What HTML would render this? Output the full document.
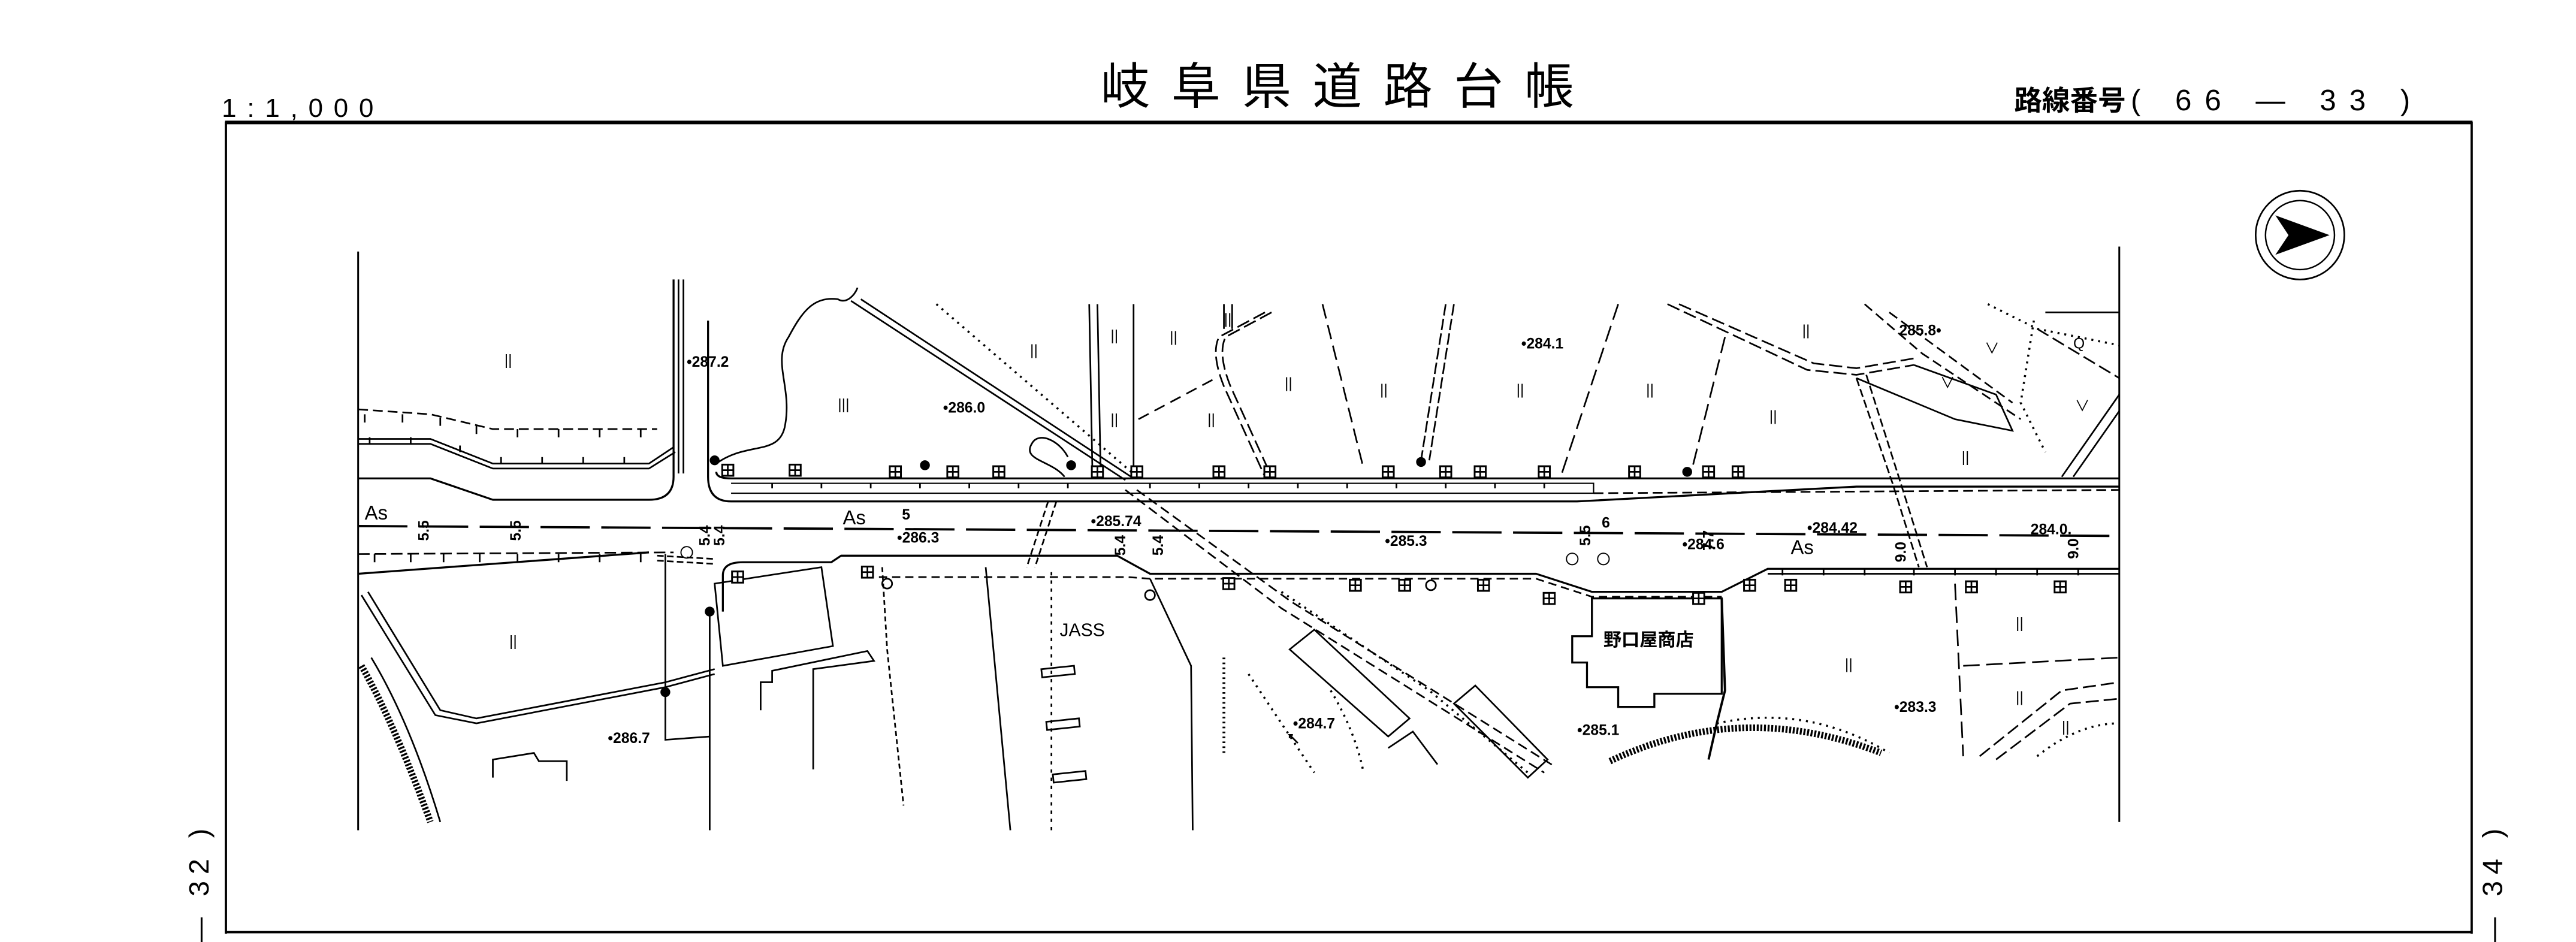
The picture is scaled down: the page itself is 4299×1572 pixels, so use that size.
<!DOCTYPE html>
<html><head><meta charset="utf-8"><style>
html,body{margin:0;padding:0;background:#fff;}
svg{display:block;}
text{font-family:"Liberation Sans","Noto Sans CJK JP",sans-serif;fill:#000;}
</style></head><body>
<svg width="4299" height="1572" viewBox="0 0 4299 1572" xmlns="http://www.w3.org/2000/svg">
<defs>
<symbol id="bx" viewBox="0 0 8 8"><rect x="0.6" y="0.6" width="6.8" height="6.8" fill="#fff" stroke="#000" stroke-width="1.1"/><line x1="4" y1="0.6" x2="4" y2="7.4" stroke="#000" stroke-width="1"/><line x1="0.6" y1="4" x2="7.4" y2="4" stroke="#000" stroke-width="1"/></symbol>
</defs>
<g transform="scale(2.7417,2.7435)" fill="none" stroke="#000" stroke-width="1">
<!-- header -->
<text x="135" y="71" font-size="16" letter-spacing="6.5" stroke="none">1:1,000</text>
<text x="670" y="63" font-size="30" letter-spacing="13" stroke="none">岐阜県道路台帳</text>
<text x="1226" y="67" font-size="17" font-weight="bold" stroke="none">路線番号</text>
<text x="1297" y="67" font-size="18" letter-spacing="8" stroke="none">( 66 — 33 )</text>
<!-- frame -->
<line x1="137" y1="74.5" x2="1505" y2="74.5" stroke-width="2.2"/>
<line x1="137.5" y1="74" x2="137.5" y2="568" stroke-width="1.4"/>
<line x1="1504.5" y1="74" x2="1504.5" y2="568" stroke-width="1.4"/>
<line x1="137" y1="567" x2="1505" y2="567" stroke-width="1.4"/>
<text transform="translate(127,575) rotate(-90)" font-size="17" letter-spacing="4" stroke="none">— 32 )</text>
<text transform="translate(1523,575) rotate(-90)" font-size="17" letter-spacing="4" stroke="none">— 34 )</text>
<!-- compass -->
<circle cx="1400" cy="143" r="27" stroke-width="1"/>
<circle cx="1400" cy="143" r="21" stroke-width="0.9"/>
<path d="M1385 131 L1418 143 L1385 155 L1393 143 Z" fill="#000" stroke="none"/>
<!-- map borders -->
<line x1="218" y1="153" x2="218" y2="505" stroke-width="1.1"/>
<line x1="1290" y1="150" x2="1290" y2="500" stroke-width="1.1"/>
<!-- left-top block -->
<path d="M218 249 L262 252 L300 261 L400 261" stroke-dasharray="6 3"/>
<path d="M222 252v5 M245 252v5 M268 254v5 M290 259v5 M315 261v5 M340 261v5 M365 261v5 M390 261v5"/>
<path d="M218 267 L262 267 L300 282 L395 282 L410 272"/>
<path d="M218 270 L262 270 L300 285 L395 285 L411 275"/>
<path d="M225 270v-4 M250 270v-4 M280 275v-4 M305 282v-4 M330 282v-4 M355 282v-4 M380 282v-4"/>
<path d="M218 291 L262 291 L300 304 L395 304 Q410 304 410 290 L410 170" stroke-width="1.2"/>
<path d="M413 170 L413 288 M416 170 L416 288"/>
<!-- north road edges -->
<path d="M431 195 L431 290 Q431 305 445 305 L960 305 L1130 296 L1290 296" stroke-width="1.2"/>
<path d="M436 287 Q436 291 445 291 L1290 291" stroke-width="1.2"/>
<path d="M445 294 L970 294 L970 300 L445 300" stroke-width="0.8"/>
<path d="M470 294v3 M500 294v3 M530 294v3 M560 294v3 M590 294v3 M620 294v3 M650 294v3 M700 294v3 M730 294v3 M760 294v3 M790 294v3 M820 294v3 M850 294v3 M880 294v3 M910 294v3 M940 294v3"/>
<path d="M970 300 L1290 298" stroke-dasharray="6 3"/>
<!-- centerline -->
<path d="M218 320 L1290 326" stroke-width="1.4" stroke-dasharray="30 7"/>
<!-- south road -->
<path d="M218 337 L410 336" stroke-dasharray="7 3"/>
<path d="M228 337v5 M250 337v5 M270 337v5 M292 337v5 M315 337v5 M340 337v5 M365 337v5 M390 337v5"/>
<path d="M218 349 L395 336" stroke-width="1.2"/>
<path d="M400 338 L435 340 M400 341 L435 343" stroke-dasharray="4 2"/>
<path d="M440 372 L440 350 Q440 342 452 342 L506 342 L512 338 L680 338 L700 349 L935 349 L969 360 L1048 360 L1076 346 L1290 346" stroke-width="1.2"/>
<path d="M535 351 L686 351 L700 352 L935 352 L969 363 L1048 363" stroke-dasharray="5 3"/>
<path d="M1076 349 L1290 349 M1085 346v4 M1110 346v4 M1135 346v4 M1165 346v4 M1190 346v4 M1215 346v4 M1240 346v4 M1265 346v4"/>
<!-- diagonal crossings -->
<path d="M518 183 L685 292 M524 182 L690 291"/>
<path d="M570 185 L692 290" stroke-dasharray="1.2 3" stroke-width="1.3"/>
<path d="M685 298 L780 370 L860 420 L940 470 M692 298 L786 366 L866 416 L946 466" stroke-dasharray="6 3"/>
<path d="M780 360 L870 420 L930 470" stroke-dasharray="1.2 3" stroke-width="1.3"/>
<path d="M638 305 L625 345 M643 305 L630 345" stroke-dasharray="4 2"/>
<path d="M1130 230 L1152 294 L1168 345 M1136 228 L1157 294 L1173 345" stroke-dasharray="5 2"/>
<path d="M1290 240 L1255 290 M1290 250 L1262 290"/>
<!-- north parcels -->
<path d="M663 185 L665 290 M668 185 L670 290"/>
<path d="M690 185 L690 290"/>
<path d="M693 255 L740 230" stroke-dasharray="7 4"/>
<path d="M770 190 L742 205 Q737 215 745 235 L770 290 M774 190 L746 205 Q741 215 749 235 L774 290" stroke-dasharray="8 3"/>
<path d="M745 185 L745 200 M750 185 L750 200"/>
<path d="M805 185 L830 285" stroke-dasharray="9 4"/>
<path d="M880 185 L865 280 M885 185 L870 280" stroke-dasharray="7 2"/>
<path d="M985 185 L950 290" stroke-dasharray="10 4"/>
<path d="M1050 205 L1030 285" stroke-dasharray="10 4"/>
<path d="M1015 185 L1100 225 L1130 228 L1165 222 M1022 185 L1104 221 L1130 224 L1165 218" stroke-dasharray="8 3"/>
<path d="M1135 185 L1170 215 L1230 255 M1150 190 L1225 245" stroke-dasharray="6 3"/>
<path d="M1165 222 L1215 240 L1225 262 L1190 255 L1130 230"/>
<path d="M1210 185 L1240 200 L1290 210 M1238 195 L1230 245 L1245 275" stroke-dasharray="1.2 3" stroke-width="1.3"/>
<path d="M1240 200 L1290 230" stroke-dasharray="8 3"/>
<path d="M1245 190 L1290 190"/>
<!-- wavy -->
<path d="M436 282 C455 268 475 278 478 258 C482 235 470 220 480 205 C488 190 495 180 510 182 C515 185 520 180 522 175"/>
<path d="M648 290 C640 280 622 280 628 270 C632 262 645 268 650 278"/>
<!-- south features -->
<path d="M220 362 L265 435 L290 440 L405 418 L435 410 M224 360 L268 432 L290 437 L405 415 L435 407"/>
<path d="M220 405 Q240 440 262 500" stroke-width="4" stroke-dasharray="1.2 1"/>
<path d="M226 400 Q250 440 268 500"/>
<path d="M405 337 L405 450 L432 448"/>
<path d="M432 372 L432 505"/>
<polygon points="435,355 500,345 507,393 440,405"/>
<path d="M463 432 L463 415 L470 415 L470 408 L528 396 L532 402 L495 407 L495 468"/>
<path d="M300 473 L300 462 L325 458 L328 463 L345 463 L345 475"/>
<path d="M537 345 L540 395 L550 490" stroke-dasharray="3 2"/>
<path d="M600 345 L615 505"/>
<path d="M700 352 L725 405 L726 505"/>
<path d="M640 348 L640 505" stroke-dasharray="2 3"/>
<text x="645" y="387" font-size="11" stroke="none">JASS</text>
<rect x="634" y="406" width="20" height="5" transform="rotate(-6 644 408)"/>
<rect x="637" y="438" width="20" height="5" transform="rotate(-6 647 440)"/>
<rect x="641" y="470" width="20" height="5" transform="rotate(-6 651 472)"/>
<polygon points="785,395 800,383 858,437 845,448"/>
<polygon points="885,428 898,417 942,462 930,473"/>
<path d="M845 455 L860 445 L875 465"/>
<path d="M745 400 L745 460" stroke-dasharray="1 2" stroke-width="1.7"/>
<path d="M760 410 Q780 440 800 470 M810 420 Q825 445 830 470" stroke-dasharray="1.2 3" stroke-width="1.3"/>
<path d="M790 452 l-5 -5 l2 0 m-2 0 l0 2"/>
<polygon points="969,364 1048,364 1048,422 1007,422 1007,430 985,430 985,418 966,418 966,403 957,403 957,387 969,387" stroke-width="1.2"/>
<text x="976" y="393" font-size="11" font-weight="bold" stroke="none">野口屋商店</text>
<path d="M1048 364 L1050 420 L1045 440 L1040 462" stroke-width="1.4"/>
<path d="M980 463 Q1060 425 1145 458" stroke-width="4" stroke-dasharray="1.2 1"/>
<path d="M1045 440 Q1100 428 1150 458" stroke-dasharray="1.2 3" stroke-width="1.3"/>
<path d="M1190 355 L1195 460" stroke-dasharray="10 4"/>
<path d="M1195 405 L1290 400" stroke-dasharray="10 4"/>
<path d="M1205 460 L1255 420 L1290 415 M1215 462 L1260 428 L1290 425" stroke-dasharray="8 3"/>
<path d="M1240 460 Q1265 440 1290 440" stroke-dasharray="1.2 3" stroke-width="1.3"/>
<!-- symbols -->
<g stroke="none" fill="#000">
<circle cx="435" cy="280" r="3"/><circle cx="563" cy="283" r="3"/><circle cx="652" cy="283" r="3"/>
<circle cx="865" cy="281" r="3"/><circle cx="1027" cy="287" r="3"/><circle cx="432" cy="372" r="3"/>
<circle cx="405" cy="421" r="3"/>
</g>
<g>
<use href="#bx" x="439" y="282" width="8" height="8"/><use href="#bx" x="480" y="282" width="8" height="8"/>
<use href="#bx" x="541" y="283" width="8" height="8"/><use href="#bx" x="576" y="283" width="8" height="8"/>
<use href="#bx" x="604" y="283" width="8" height="8"/><use href="#bx" x="664" y="283" width="8" height="8"/>
<use href="#bx" x="688" y="283" width="8" height="8"/><use href="#bx" x="738" y="283" width="8" height="8"/>
<use href="#bx" x="769" y="283" width="8" height="8"/><use href="#bx" x="841" y="283" width="8" height="8"/>
<use href="#bx" x="876" y="283" width="8" height="8"/><use href="#bx" x="897" y="283" width="8" height="8"/>
<use href="#bx" x="936" y="283" width="8" height="8"/><use href="#bx" x="991" y="283" width="8" height="8"/>
<use href="#bx" x="1036" y="283" width="8" height="8"/><use href="#bx" x="1054" y="283" width="8" height="8"/>
<use href="#bx" x="445" y="347" width="8" height="8"/><use href="#bx" x="524" y="344" width="8" height="8"/>
<use href="#bx" x="744" y="351" width="8" height="8"/><use href="#bx" x="821" y="352" width="8" height="8"/>
<use href="#bx" x="851" y="352" width="8" height="8"/><use href="#bx" x="899" y="352" width="8" height="8"/>
<use href="#bx" x="939" y="360" width="8" height="8"/><use href="#bx" x="1030" y="360" width="8" height="8"/>
<use href="#bx" x="1061" y="352" width="8" height="8"/><use href="#bx" x="1086" y="352" width="8" height="8"/>
<use href="#bx" x="1156" y="353" width="8" height="8"/><use href="#bx" x="1196" y="353" width="8" height="8"/>
<use href="#bx" x="1250" y="353" width="8" height="8"/>
</g>
<circle cx="418" cy="336" r="3.5" stroke-width="0.7"/><circle cx="957" cy="340" r="3.5" stroke-width="0.7"/><circle cx="976" cy="340" r="3.5" stroke-width="0.7"/>
<circle cx="540" cy="355" r="3"/><circle cx="700" cy="362" r="3"/><circle cx="871" cy="356" r="3"/>
<!-- labels -->
<g stroke="none" font-size="9" font-weight="bold">
<text x="418" y="223">•287.2</text><text x="574" y="251">•286.0</text><text x="546" y="330">•286.3</text>
<text x="664" y="320">•285.74</text><text x="843" y="332">•285.3</text><text x="926" y="212">•284.1</text>
<text x="1024" y="334">•284.6</text><text x="1100" y="324">•284.42</text><text x="1236" y="325">284.0.</text>
<text x="1156" y="204">285.8•</text><text x="370" y="452">•286.7</text><text x="787" y="443">•284.7</text>
<text x="960" y="447">•285.1</text><text x="1153" y="433">•283.3</text>
</g>
<g stroke="none" font-size="12">
<text x="222" y="316">As</text><text x="513" y="319">As</text><text x="1090" y="337">As</text>
</g>
<g stroke="none" font-size="9" font-weight="bold">
<text x="549" y="316">5</text><text x="975" y="321">6</text>
<text transform="translate(261,329) rotate(-90)">5.5</text><text transform="translate(317,329) rotate(-90)">5.5</text>
<text transform="translate(432,332) rotate(-90)">5.4</text><text transform="translate(441,332) rotate(-90)">5.4</text>
<text transform="translate(968,332) rotate(-90)">5.5</text><text transform="translate(1043,335) rotate(-90)">7.7</text>
<text transform="translate(1265,340) rotate(-90)">9.0</text><text transform="translate(1160,342) rotate(-90)">9.0</text>
<text transform="translate(685,338) rotate(-90)">5.4</text><text transform="translate(708,338) rotate(-90)">5.4</text>
</g>
<g stroke="none" font-size="9">
<text x="307" y="222">||</text><text x="627" y="216">||</text><text x="676" y="207">||</text><text x="712" y="208">||</text>
<text x="745" y="197">||</text><text x="782" y="236">||</text><text x="840" y="240">||</text><text x="923" y="240">||</text>
<text x="1002" y="240">||</text><text x="1077" y="256">||</text><text x="1097" y="204">||</text><text x="1194" y="281">||</text>
<text x="735" y="258">||</text><text x="676" y="258">||</text><text x="310" y="393">||</text><text x="1123" y="407">||</text>
<text x="1227" y="382">||</text><text x="1227" y="427">||</text><text x="510" y="249">|||</text><text x="1255" y="445">||</text>
<text x="1181" y="236">∨</text><text x="1263" y="250">∨</text><text x="1208" y="215">∨</text><text x="1262" y="212">Q</text>
</g>
</g>
</svg>
</body></html>
